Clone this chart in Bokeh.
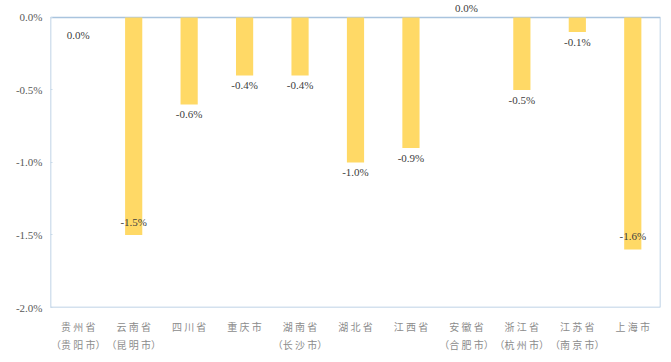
from bokeh.plotting import figure
from bokeh.models import ColumnDataSource, FactorRange, Range1d, FixedTicker, LabelSet
from bokeh.core.properties import value
from bokeh.embed import file_html
from bokeh.resources import INLINE

provinces = ["贵州省", "云南省", "四川省", "重庆市", "湖南省", "湖北省", "江西省", "安徽省", "浙江省", "江苏省", "上海市"]
cities = ["贵阳市", "昆明市", "", "", "长沙市", "", "", "合肥市", "杭州市", "南京市", ""]
values = [0.0, -1.5, -0.6, -0.4, -0.4, -1.0, -0.9, 0.0, -0.5, -0.1, -1.6]
y_ticks = [0.0, -0.5, -1.0, -1.5, -2.0]
tick_labels = ["0.0%", "-0.5%", "-1.0%", "-1.5%", "-2.0%"]
y_min, y_max = -2.0, 0.0

def spaced(s):
    return " ".join(list(s))

cats = []
for pr, c in zip(provinces, cities):
    t = spaced(pr)
    if c:
        t += "\n（" + spaced(c) + "）"
    cats.append(t)

labels_txt = ["%.1f%%" % v for v in values]
offs = []
for i, v in enumerate(values):
    if v <= -1.5:
        offs.append(13)
    elif v == 0.0 and i == 7:
        offs.append(9)
    elif v == 0.0:
        offs.append(-18)
    else:
        offs.append(-10)

src = ColumnDataSource(dict(x=cats, top=[0]*len(values), bottom=values, v=values,
                            lab=labels_txt, off=offs))

SERIF = "'Liberation Serif', 'Times New Roman', serif"
BORDER = "#A9C4DE"

p = figure(width=663, height=354, x_range=FactorRange(*cats, range_padding=0),
           y_range=Range1d(y_min, y_max + 0.11),
           output_backend="svg", toolbar_location=None,
           min_border_left=50, min_border_right=3, min_border_top=1, min_border_bottom=47)
p.outline_line_color = None

# plot-area box from 0 to -2 across all categories
p.quad(left=0, right=len(cats), top=y_max, bottom=y_min, fill_color=None,
       line_color=BORDER, line_width=1.5)

p.vbar(x="x", top="top", bottom="bottom", width=0.31, source=src, color="#FFD966", line_color=None)

lbl = LabelSet(x="x", y="v", text="lab", y_offset="off", source=src,
               text_align="center", text_baseline="middle", level="overlay",
               text_font=value(SERIF), text_font_size="11px", text_color="#404040")
p.add_layout(lbl)

p.xgrid.visible = False
p.ygrid.visible = False

p.yaxis.ticker = FixedTicker(ticks=y_ticks)
p.yaxis.major_label_overrides = {t: l for t, l in zip(y_ticks, tick_labels)}
p.yaxis.major_label_text_font = SERIF
p.yaxis.major_label_text_font_size = "11px"
p.yaxis.major_label_text_color = "#595959"
p.yaxis.axis_line_color = None
p.yaxis.major_tick_line_color = "#C9DAEA"
p.yaxis.major_tick_in = 2
p.yaxis.major_tick_out = 0
p.yaxis.minor_tick_line_color = None
p.yaxis.major_label_standoff = 8

p.xaxis.major_label_text_font = "Noto Sans CJK SC"
p.xaxis.major_label_text_font_size = "10px"
p.xaxis.major_label_text_color = "#8C8C8C"
p.xaxis.axis_line_color = None
p.xaxis.major_tick_line_color = None
p.xaxis.minor_tick_line_color = None
p.xaxis.major_label_standoff = 5

open("out.html", "w").write(file_html(p, INLINE))
